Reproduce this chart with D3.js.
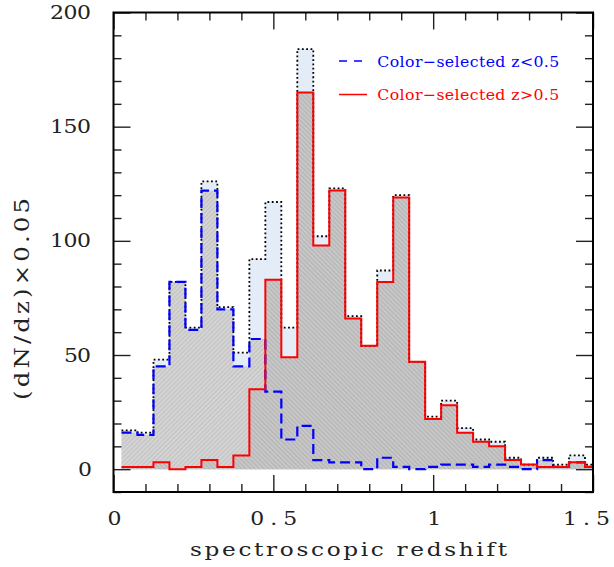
<!DOCTYPE html>
<html>
<head>
<meta charset="utf-8">
<script src="https://cdn.jsdelivr.net/npm/d3@7"></script>
<style>
  body { margin: 0; background: #fff; }
  svg { display: block; }
  text { font-family: "DejaVu Serif", "Liberation Serif", serif; }
</style>
</head>
<body>
<div id="chart"></div>
<script>
// bin centres of the redshift histogram (bin width 0.05)
var zCenters = [0.05, 0.10, 0.15, 0.20, 0.25, 0.30, 0.35, 0.40, 0.45, 0.50,
                0.55, 0.60, 0.65, 0.70, 0.75, 0.80, 0.85, 0.90, 0.95, 1.00,
                1.05, 1.10, 1.15, 1.20, 1.25, 1.30, 1.35, 1.40, 1.45, 1.50];
var binWidth = 0.05;

// all spectroscopic objects (dotted)
var allCounts = [17, 16, 48, 82, 62, 126, 71, 51, 92, 117,
                 62, 184, 102, 123, 67, 54, 87, 120, 47, 23,
                 30, 18, 13, 12, 5, 2, 5, 2, 6, 2];
// colour-selected z<0.5 (blue dashed)
var lowCounts = [16, 15, 45, 82, 61, 122, 70, 45, 57, 34,
                 13, 19, 4, 3, 3, 0, 5, 1, 0, 1,
                 2, 2, 1, 2, 1, 0, 4, 1, 3, 1];
// colour-selected z>0.5 (red solid)
var highCounts = [1, 1, 3, 0, 1, 4, 1, 6, 35, 83,
                  49, 165, 98, 122, 66, 54, 82, 119, 47, 22,
                  28, 16, 12, 10, 4, 2, 1, 1, 3, 1];

var xMajor = [0, 0.5, 1, 1.5];
var yMajor = [0, 50, 100, 150, 200];
var legendLabels = ["Color\u2212selected z<0.5", "Color\u2212selected z>0.5"];

function drawChart() {
    var width = 614, height = 567;
    // plot frame (window.top is reserved, so no bare "top")
    var fr = {left: 113.5, right: 593, top: 12.5, bottom: 492};

    var x = d3.scaleLinear().domain([0, 1.5]).range([fr.left, fr.right]);
    var y = d3.scaleLinear().domain([-10, 200]).range([fr.bottom, fr.top]);

    var svg = d3.select("#chart").append("svg")
        .attr("width", width)
        .attr("height", height);

    var defs = svg.append("defs");

    function hatch(id, bg, fg, angle) {
        var p = defs.append("pattern")
            .attr("id", id)
            .attr("width", 3.2).attr("height", 3.2)
            .attr("patternUnits", "userSpaceOnUse")
            .attr("patternTransform", "rotate(" + angle + ")");
        p.append("rect").attr("width", 3.2).attr("height", 3.2).attr("fill", bg);
        p.append("line").attr("x1", 0.8).attr("y1", 0).attr("x2", 0.8).attr("y2", 3.2)
            .attr("stroke", fg).attr("stroke-width", 1.2);
    }
    hatch("hatchLow", "#d5d5d5", "#c3c3c3", 45);
    hatch("hatchHigh", "#b9b9b9", "#cdcdcd", -45);

    defs.append("clipPath").attr("id", "plotClip")
        .append("rect")
        .attr("x", fr.left).attr("y", fr.top)
        .attr("width", fr.right - fr.left).attr("height", fr.bottom - fr.top);

    // step points: left edge of every bin, then the right edge of the last one
    function stepPoints(counts) {
        var pts = zCenters.map(function(z, i) { return [z - binWidth / 2, counts[i]]; });
        pts.push([zCenters[zCenters.length - 1] + binWidth / 2, counts[counts.length - 1]]);
        return pts;
    }

    var line = d3.line()
        .x(function(d) { return x(d[0]); })
        .y(function(d) { return y(d[1]); })
        .curve(d3.curveStepAfter);

    var area = d3.area()
        .x(function(d) { return x(d[0]); })
        .y0(y(0))
        .y1(function(d) { return y(d[1]); })
        .curve(d3.curveStepAfter);

    var plot = svg.append("g").attr("clip-path", "url(#plotClip)");

    plot.append("path").attr("d", area(stepPoints(allCounts))).attr("fill", "#e4ecf7");
    plot.append("path").attr("d", area(stepPoints(lowCounts))).attr("fill", "url(#hatchLow)");
    plot.append("path").attr("d", area(stepPoints(highCounts))).attr("fill", "url(#hatchHigh)");

    plot.append("path").attr("d", line(stepPoints(allCounts)))
        .attr("fill", "none").attr("stroke", "#000")
        .attr("stroke-width", 1.8).attr("stroke-dasharray", "1.8,2.5");
    plot.append("path").attr("d", line(stepPoints(lowCounts)))
        .attr("fill", "none").attr("stroke", "#0000ff")
        .attr("stroke-width", 2.2).attr("stroke-dasharray", "10,5");
    plot.append("path").attr("d", line(stepPoints(highCounts)))
        .attr("fill", "none").attr("stroke", "#ff0000")
        .attr("stroke-width", 2);

    // tick marks on all four sides
    function ticks(axis, vals, size, transform) {
        var g = svg.append("g")
            .attr("transform", transform)
            .call(axis.tickValues(vals).tickSize(size).tickSizeOuter(0).tickFormat(""));
        g.select(".domain").remove();
        g.selectAll("line").attr("stroke", "#222").attr("stroke-width", 1.4);
    }
    var xMinor = d3.range(1, 15).filter(function(i) { return i % 5 != 0; })
        .map(function(i) { return i / 10; });
    var yMinor = d3.range(-10, 201, 10).filter(function(v) { return v % 50 != 0; });

    ticks(d3.axisBottom(x), xMajor, -17, "translate(0," + fr.bottom + ")");
    ticks(d3.axisBottom(x), xMinor, -8, "translate(0," + fr.bottom + ")");
    ticks(d3.axisTop(x), xMajor, -17, "translate(0," + fr.top + ")");
    ticks(d3.axisTop(x), xMinor, -8, "translate(0," + fr.top + ")");
    ticks(d3.axisLeft(y), yMajor, -17, "translate(" + fr.left + ",0)");
    ticks(d3.axisLeft(y), yMinor, -8, "translate(" + fr.left + ",0)");
    ticks(d3.axisRight(y), yMajor, -17, "translate(" + fr.right + ",0)");
    ticks(d3.axisRight(y), yMinor, -8, "translate(" + fr.right + ",0)");

    svg.append("rect")
        .attr("x", fr.left).attr("y", fr.top)
        .attr("width", fr.right - fr.left).attr("height", fr.bottom - fr.top)
        .attr("fill", "none").attr("stroke", "#000").attr("stroke-width", 2);

    // the original font is wide and thin: widen glyphs a little, spread the rest
    function labelWidth(s) {
        var w = 0;
        for (var i = 0; i < s.length; i++) w += (s[i] == "." ? 20 : 14);
        return w;
    }

    function addText(sel, s, w, size, fill, transform, sx) {
        return sel.append("text")
            .attr("transform", transform + " scale(" + sx + ",1)")
            .attr("font-size", size)
            .attr("textLength", w / sx).attr("lengthAdjust", "spacing")
            .attr("fill", fill)
            .text(s);
    }

    yMajor.forEach(function(v) {
        var s = String(v), w = labelWidth(s);
        addText(svg, s, w - 1, 18, "#222",
            "translate(" + (91 - w + 1) + "," + (y(v) + 6.5) + ")", 1.22);
    });

    xMajor.forEach(function(v) {
        var s = String(v), w = labelWidth(s);
        var x0 = Math.min(x(v) - w / 2, 610 - w);
        addText(svg, s, w - 1, 18, "#222", "translate(" + (x0 + 1) + ",525)", 1.22);
    });

    addText(svg, "spectroscopic redshift", 317, 19, "#222", "translate(190,556)", 1.22);

    addText(svg, "(dN/dz)\u00d70.05", 202, 20, "#222", "translate(28.5,400) rotate(-90)", 1.22);

    // legend
    var legend = svg.append("g");
    var legendColors = ["#0000ff", "#ff0000"];
    var legendDash = ["8,7", null];
    legendLabels.forEach(function(label, i) {
        var ly = 61 + i * 33.5;
        legend.append("line")
            .attr("x1", 339).attr("x2", 367)
            .attr("y1", ly).attr("y2", ly)
            .attr("stroke", legendColors[i]).attr("stroke-width", 1.5)
            .attr("stroke-dasharray", legendDash[i]);
        addText(legend, label, 182, 15, legendColors[i],
            "translate(377.3," + (ly + 5.7) + ")", 1.05);
    });
}

drawChart();
</script>
</body>
</html>
